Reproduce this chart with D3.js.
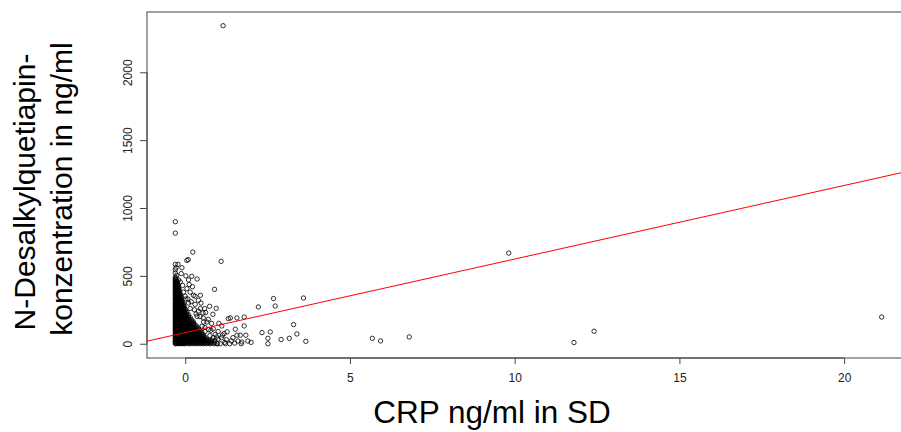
<!DOCTYPE html>
<html>
<head>
<meta charset="utf-8">
<script src="https://cdn.jsdelivr.net/npm/d3@7"></script>
<style>
  html, body { margin: 0; padding: 0; background: #fff; }
  svg { display: block; }
  text { font-family: "Liberation Sans", Arial, sans-serif; }
</style>
</head>
<body>
<svg id="chart" width="901" height="432"></svg>
<script>
// ---------------- data ----------------
const xTicks = [0, 5, 10, 15, 20];
const yTicks = [0, 500, 1000, 1500, 2000];

// dense cluster: CRP value (SD) for each column, and the concentrations in that column
const clusterCRP = [-0.30, -0.27, -0.24, -0.21, -0.18, -0.15, -0.12, -0.09, -0.06, -0.03,
                    0.00, 0.05, 0.10, 0.15, 0.20, 0.25, 0.30, 0.35, 0.40, 0.45,
                    0.50, 0.55, 0.60, 0.65, 0.70, 0.75, 0.80, 0.88, 0.95];
const clusterConc = [
  [0,6,15,22,31,40,48,57,66,74,85,93,102,110,121,130,138,149,157,166,176,185,193,204,212,221,232,240,251,259,268,279,288,296,307,315,326,334,343,354,362,371,382,390,401,409,420,428,437,448,456,465,474,483,491],
  [3,12,20,29,37,46,55,63,72,80,91,99,108,117,125,134,144,152,161,170,180,188,197,207,215,226,234,243,253,262,271,282,291,300,310,318,329,337,347,356,366,375,384,395,403,412,423,432,441,452,460,472],
  [1,10,18,27,35,44,52,61,70,78,88,97,105,115,123,132,141,150,159,168,177,186,196,205,214,224,232,242,251,260,270,279,289,298,308,317,327,336,346,355,365,374,384,393,404,414,425,437,448,456],
  [4,13,21,30,39,47,56,65,73,83,92,100,110,119,128,137,146,155,164,174,183,192,202,211,221,230,240,249,259,268,278,287,297,307,316,326,336,346,356,366,377,388,398,409,420,431],
  [2,11,19,28,36,45,54,62,71,81,89,98,107,116,126,135,144,153,163,172,181,191,200,210,219,229,238,248,258,267,277,287,297,307,318,328,339,350,362,374,386,399],
  [0,8,17,25,34,43,51,60,69,78,87,96,105,114,124,133,143,152,162,171,181,190,200,209,219,229,239,249,259,270,281,292,304,316,329,342,355,368],
  [5,14,22,31,40,48,57,67,76,85,94,103,113,122,132,141,151,161,170,180,190,200,210,221,231,242,253,264,276,288,301,314,327,340],
  [1,9,18,26,35,44,53,62,71,80,90,99,108,118,128,137,147,157,167,177,188,198,209,220,231,243,255,268,281,295,309],
  [3,12,20,29,38,47,56,65,74,84,93,103,112,122,132,142,152,163,173,184,195,207,219,231,244,257,271,285,296],
  [0,9,17,26,35,44,53,62,72,81,91,100,110,120,131,141,152,163,174,186,198,210,223,236,249,262,275],
  [4,12,21,30,39,48,57,67,76,86,96,106,117,127,138,149,161,173,185,198,211,225,240,254],
  [1,10,19,28,37,46,56,65,75,85,95,106,117,128,140,152,165,178,192,206,220,234],
  [3,12,21,30,40,49,59,69,80,91,102,114,126,139,152,166,181,197,213],
  [0,9,18,27,37,47,57,68,79,91,103,116,130,145,161,178,194],
  [4,13,22,32,42,52,63,75,87,100,114,129,145,161,175],
  [1,10,20,30,40,51,63,75,88,102,117,133,149,160],
  [3,12,22,32,43,54,66,79,93,108,124,140],
  [0,10,20,30,41,53,66,80,95,111,128],
  [4,13,23,34,46,59,73,88,104,116],
  [1,11,21,32,44,57,71,86,100],
  [3,12,22,33,45,58,72,85],
  [0,10,20,31,43,55,66],
  [4,13,24,36,48],
  [1,11,22,34],
  [3,13,25],
  [0,10,20],
  [4,14],
  [0,9],
  [2]
];

// individually visible points
const scatterCRP = [-0.30,-0.30,-0.28,-0.30,-0.22,-0.26,-0.20,-0.12,-0.15,-0.08,0.12,0.05,-0.05,0.20,0.36,0.25,0.46,0.05,0.09,0.23,
  1.09,-0.30,-0.30,1.15,0.89,0.02,0.10,0.30,0.15,0.40,0.59,0.46,0.54,0.74,0.94,0.84,0.36,0.66,0.56,0.71,
  0.78,0.91,0.51,0.25,0.81,1.06,0.98,1.18,1.13,1.35,1.72,1.70,1.57,1.67,1.52,1.11,1.31,1.37,1.57,1.79,
  1.79,1.84,2.22,2.68,2.73,3.59,3.29,3.39,3.66,3.16,2.91,2.58,2.51,2.51,2.33,5.68,5.93,6.80,9.82,11.80,
  12.41,21.14,0.90,1.00,1.20,1.25,1.40,1.45,1.60,1.10,0.95,0.85,1.00,1.22,1.50,1.90,2.00,1.27,1.02,0.60,
  0.00,0.08,0.18,0.28,0.33,0.45,0.55,0.62,0.70,0.80,0.48,0.15,0.22,0.30,0.40,0.10,0.02,-0.10,0.60,0.75,0.85];
const scatterConc = [520,545,560,585,585,503,470,517,455,430,436,406,380,497,477,357,357,614,620,675,
  607,815,899,2343,401,330,300,290,260,240,259,259,227,276,261,217,202,160,160,104,
  99,68,129,143,26,0,0,75,63,0,13,0,63,63,107,131,185,190,190,197,
  131,63,271,333,278,337,141,72,18,40,31,87,40,0,82,40,21,50,668,9,
  92,197,20,35,10,30,20,45,20,45,50,45,90,0,5,20,10,88,150,90,
  350,330,310,250,220,200,190,230,180,150,300,380,420,350,320,470,500,560,120,60,110];

// regression line
const fitIntercept = 82;
const fitSlope = 54.2;

const xTitle = "CRP ng/ml in SD";
const yTitleLines = ["N-Desalkylquetiapin-", "konzentration in ng/ml"];

// ---------------- drawing ----------------
const svg = d3.select("#chart");
const plot = { left: 147, top: 12, right: 912, bottom: 358 };

const x = d3.scaleLinear().domain([-1.16, 22.06]).range([plot.left, plot.right]);
const y = d3.scaleLinear().domain([-105, 2444]).range([plot.bottom, plot.top]);

svg.append("defs").append("clipPath").attr("id", "clip")
  .append("rect").attr("x", plot.left).attr("y", plot.top)
  .attr("width", plot.right - plot.left).attr("height", plot.bottom - plot.top);

// points
const pts = [];
clusterCRP.forEach((cx, i) => clusterConc[i].forEach(v => pts.push([cx, v])));
scatterCRP.forEach((cx, i) => pts.push([cx, scatterConc[i]]));

svg.append("g").attr("clip-path", "url(#clip)")
  .selectAll("circle").data(pts).join("circle")
  .attr("cx", d => x(d[0])).attr("cy", d => y(d[1]))
  .attr("r", 2.2)
  .attr("fill", "none").attr("stroke", "#000").attr("stroke-width", 0.8);

// regression line
const xd = x.domain();
svg.append("line").attr("clip-path", "url(#clip)")
  .attr("x1", x(xd[0])).attr("y1", y(fitIntercept + fitSlope * xd[0]))
  .attr("x2", x(xd[1])).attr("y2", y(fitIntercept + fitSlope * xd[1]))
  .attr("stroke", "#ff0000").attr("stroke-width", 1);

// box
svg.append("rect").attr("x", plot.left).attr("y", plot.top)
  .attr("width", plot.right - plot.left).attr("height", plot.bottom - plot.top)
  .attr("fill", "none").attr("stroke", "#444").attr("stroke-width", 1);

// x axis
const xAxis = svg.append("g").attr("transform", `translate(0,${plot.bottom})`)
  .call(d3.axisBottom(x).tickValues(xTicks).tickSize(6).tickPadding(9).tickFormat(d3.format("d")));
xAxis.select(".domain").attr("stroke", "#444")
  .attr("d", `M${x(xTicks[0])},0H${x(xTicks[xTicks.length - 1])}`);
xAxis.selectAll(".tick line").attr("stroke", "#444");
xAxis.selectAll(".tick text").attr("font-size", 12).attr("fill", "#222")
  .attr("font-family", "Liberation Sans, Arial, sans-serif");

// y axis
const yAxis = svg.append("g").attr("transform", `translate(${plot.left},0)`)
  .call(d3.axisLeft(y).tickValues(yTicks).tickSize(7).tickFormat(d3.format("d")));
yAxis.select(".domain").attr("stroke", "#444")
  .attr("d", `M0,${y(yTicks[0])}V${y(yTicks[yTicks.length - 1])}`);
yAxis.selectAll(".tick line").attr("stroke", "#444");
yAxis.selectAll(".tick text")
  .attr("font-size", 12).attr("fill", "#222")
  .attr("font-family", "Liberation Sans, Arial, sans-serif")
  .attr("x", null).attr("dy", null)
  .attr("text-anchor", "middle")
  .attr("transform", "translate(-15,0) rotate(-90)");

// titles
svg.append("text").attr("x", 492).attr("y", 423)
  .attr("text-anchor", "middle").attr("font-size", 31.5).attr("fill", "#000")
  .text(xTitle);

const yTitlePos = [[35, 192], [72, 189]];
yTitleLines.forEach((t, i) => {
  svg.append("text")
    .attr("transform", `translate(${yTitlePos[i][0]},${yTitlePos[i][1]}) rotate(-90)`)
    .attr("text-anchor", "middle").attr("font-size", 30).attr("fill", "#000")
    .text(t);
});
</script>
</body>
</html>
